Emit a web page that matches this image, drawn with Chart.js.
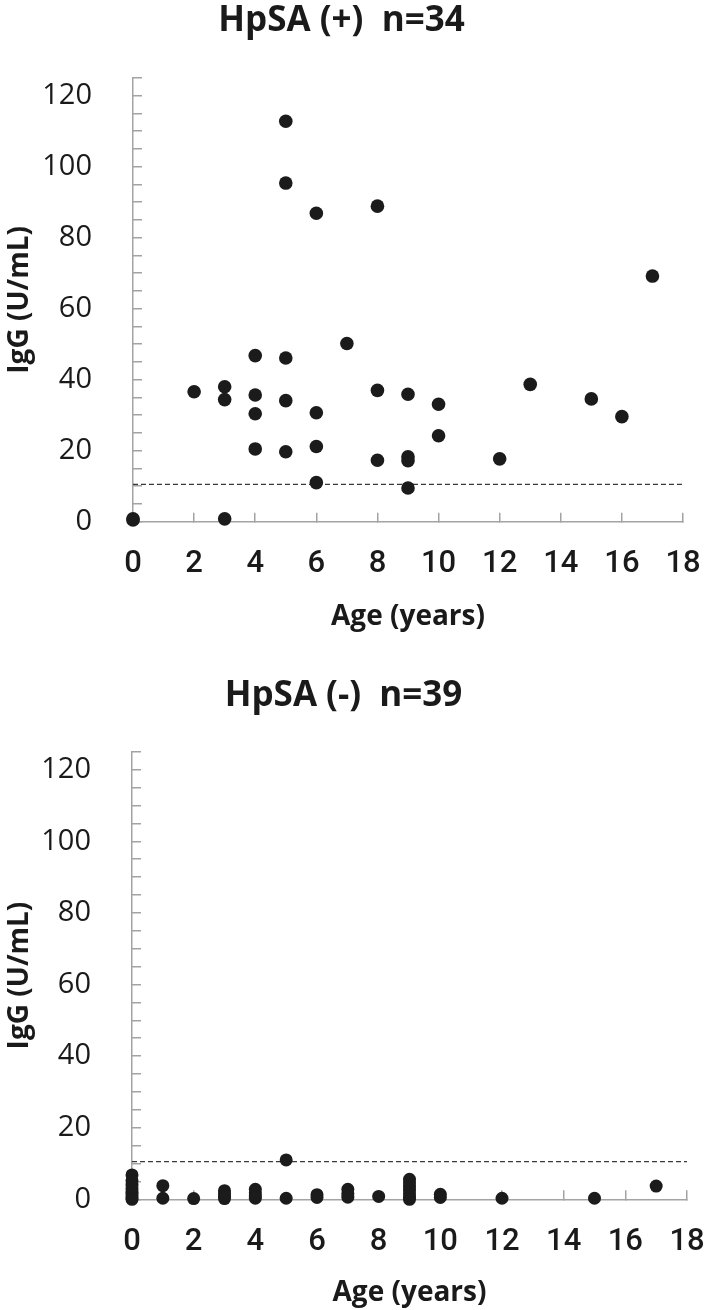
<!DOCTYPE html>
<html>
<head>
<meta charset="utf-8">
<script src="https://cdn.jsdelivr.net/npm/chart.js@4.4.0/dist/chart.umd.min.js"></script>
<style>
  html, body { margin: 0; padding: 0; background: #fff; overflow: hidden; }
  canvas { display: block; }
</style>
</head>
<body>
<canvas id="posChart" width="705" height="645"></canvas>
<canvas id="negChart" width="705" height="665"></canvas>
<script>
// HpSA (+) children, n=34
const posAges = [0, 0, 2, 3, 3, 3, 4, 4, 4, 4, 5, 5, 5, 5, 5, 6, 6, 6, 6, 7,
                 8, 8, 8, 9, 9, 9, 9, 10, 10, 12, 13, 15, 16, 17];
const posIgG = [0.8, 0.5, 36.6, 38.0, 34.4, 0.8, 46.8, 35.7, 30.4, 20.5,
                112.8, 95.4, 46.1, 34.1, 19.7, 86.9, 30.7, 21.2, 11.0, 50.2,
                88.9, 37.0, 17.3, 35.9, 18.3, 17.2, 9.5, 33.1, 24.2, 17.7,
                38.7, 34.6, 29.6, 69.2];

// HpSA (-) children, n=39
const negAges = [0, 0, 0, 0, 0, 0, 0, 0, 1, 1, 2, 3, 3, 3, 3, 4, 4, 4, 4,
                 5, 5, 6, 6, 7, 7, 7, 8, 9, 9, 9, 9, 9, 9, 9, 10, 10, 12, 15, 17];
const negIgG = [6.8, 5.2, 4.0, 3.0, 2.0, 1.2, 0.5, 0, 3.8, 0.3, 0.2,
                2.4, 1.6, 0.8, 0.2, 2.8, 1.8, 0.9, 0.3, 11.0, 0.3, 1.3, 0.5,
                2.8, 1.6, 0.6, 0.8, 5.6, 4.6, 3.6, 2.6, 1.6, 0.6, 0, 1.4, 0.5,
                0.3, 0.3, 3.7];

// cut-off line and axis ranges
const cutoffIgG = 10.5;
const ageRange = [0, 18];
const iggRange = [0, 125];

const AXIS_GREY = '#a3a3a3';
const DOT = '#1b1b1b';
const TEXT = '#1a1a1a';

function toPoints(xs, ys) {
    return xs.map((x, i) => ({ x: x, y: ys[i] }));
}

/**
 * One scatter panel; box sizes are fixed so both panels line up
 */
function createScatter(id, title, xs, ys, L) {
    return new Chart(document.getElementById(id), {
        type: 'scatter',
        data: {
            datasets: [
                {
                    data: toPoints(xs, ys),
                    backgroundColor: DOT,
                    borderWidth: 0,
                    pointRadius: L.dot,
                    clip: false
                },
                {
                    data: [{ x: ageRange[0], y: cutoffIgG }, { x: ageRange[1], y: cutoffIgG }],
                    showLine: true,
                    borderColor: '#3a3a3a',
                    borderWidth: 1.2,
                    borderDash: [5, 3],
                    pointRadius: 0
                }
            ]
        },
        options: {
            responsive: false,
            animation: false,
            layout: { padding: { left: 0, right: L.right, top: 0, bottom: 0 } },
            plugins: {
                legend: { display: false },
                tooltip: { enabled: false },
                title: {
                    display: true,
                    text: title,
                    color: TEXT,
                    font: { family: '"Open Sans", sans-serif', weight: 'bold', size: 35 },
                    padding: { top: L.titleTop, bottom: L.titleBottom }
                }
            },
            scales: {
                x: {
                    type: 'linear',
                    min: ageRange[0],
                    max: ageRange[1],
                    afterFit: s => {
                        s.height = L.xHeight;
                        s.paddingLeft = 0;
                        s.paddingRight = 0;
                    },
                    ticks: {
                        stepSize: 2,
                        autoSkip: false,
                        maxRotation: 0,
                        padding: 33,
                        color: TEXT,
                        font: { family: 'Roboto, sans-serif', weight: 500, size: 31 }
                    },
                    grid: { drawOnChartArea: false, tickLength: -9, color: AXIS_GREY, lineWidth: 1.5 },
                    border: { color: AXIS_GREY, width: 1.5 },
                    title: {
                        display: true,
                        text: 'Age (years)',
                        color: TEXT,
                        font: { family: '"Open Sans", sans-serif', weight: 'bold', size: 28 },
                        padding: { top: 0, bottom: L.xTitleBottom }
                    }
                },
                y: {
                    min: iggRange[0],
                    max: iggRange[1],
                    afterFit: s => { s.width = L.left; },
                    ticks: {
                        stepSize: 5,
                        autoSkip: false,
                        padding: 50,
                        color: TEXT,
                        font: { family: '"Open Sans", sans-serif', size: 29 },
                        callback: v => (v % 20 === 0 ? v : '')
                    },
                    grid: { drawOnChartArea: false, tickLength: -9, color: AXIS_GREY, lineWidth: 1.5 },
                    border: { color: AXIS_GREY, width: 1.5 },
                    title: {
                        display: true,
                        text: 'IgG (U/mL)',
                        color: TEXT,
                        font: { family: '"Open Sans", sans-serif', weight: 'bold', size: 28 },
                        padding: { top: 3, bottom: 0 }
                    }
                }
            }
        }
    });
}

createScatter('posChart', 'HpSA (+)  n=34', posAges, posIgG, {
    dot: 6.8, left: 133, right: 22, titleTop: 0, titleBottom: 36,
    xHeight: 123.3, xTitleBottom: 11
});

createScatter('negChart', 'HpSA (-)  n=39', negAges, negIgG, {
    dot: 6.5, left: 132, right: 18, titleTop: 30, titleBottom: 34.8,
    xHeight: 110.7, xTitleBottom: 0
});
</script>
</body>
</html>
